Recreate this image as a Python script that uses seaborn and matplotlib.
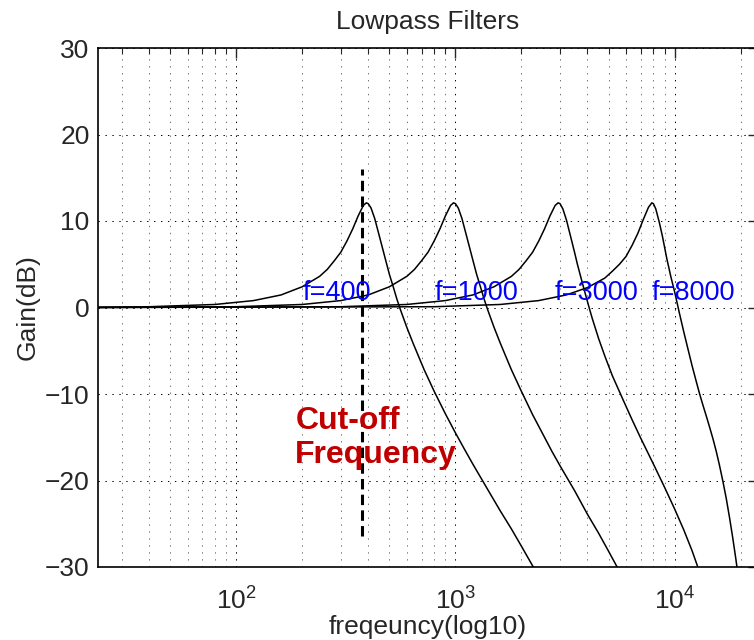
import matplotlib
matplotlib.use("Agg")
import matplotlib.pyplot as plt
import seaborn as sns
import pandas as pd
import numpy as np
from matplotlib.ticker import LogLocator, FixedLocator

# ---------------- data ----------------
cutoffs = [400, 1000, 3000, 8000]
labels = ["f=400", "f=1000", "f=3000", "f=8000"]
label_x = [201, 803, 2845, 7850]
label_y = 0.9

f400 = [20, 40, 80, 120, 160, 200, 240, 260, 280, 300, 320, 340, 360, 380, 392, 400,
        412, 428, 448, 480, 500, 520, 540, 560, 600, 640, 680, 720, 800, 900, 1000,
        1100, 1200, 1400, 1600, 1800, 2000, 2300]
g400 = [0.0, 0.09, 0.35, 0.8, 1.45, 2.4, 3.6, 4.4, 5.4, 6.4, 7.7, 9.1, 10.6, 11.8, 12.1, 12.0,
        11.5, 10.3, 8.4, 5.5, 3.8, 2.4, 1.0, -0.2, -2.3, -4.1, -5.7, -7.2, -9.7, -12.3, -14.5,
        -16.4, -18.1, -21.0, -23.5, -25.6, -27.6, -30.3]

f1000 = [20, 100, 200, 300, 400, 500, 600, 650, 700, 750, 800, 850, 900, 950, 980, 1000,
         1030, 1070, 1120, 1200, 1250, 1300, 1350, 1400, 1500, 1600, 1700, 1800, 2000, 2250,
         2500, 2750, 3000, 3500, 4000, 4500, 5000, 5600]
g1000 = [0.0, 0.09, 0.35, 0.8, 1.45, 2.4, 3.6, 4.4, 5.4, 6.4, 7.7, 9.1, 10.6, 11.8, 12.1, 12.0,
         11.5, 10.3, 8.4, 5.5, 3.8, 2.4, 1.0, -0.2, -2.3, -4.1, -5.7, -7.2, -9.7, -12.4,
         -14.6, -16.6, -18.3, -21.2, -23.9, -26.1, -28.2, -30.5]

f3000 = [20, 300, 600, 900, 1200, 1500, 1800, 1950, 2100, 2250, 2400, 2550, 2700, 2850, 2940,
         3000, 3090, 3210, 3360, 3500, 3600, 3750, 3900, 4050, 4200, 4500, 4800, 5200, 5800,
         6400, 7000, 8000, 9000, 10000, 11000, 12000, 13000]
g3000 = [0.0, 0.09, 0.35, 0.8, 1.45, 2.4, 3.6, 4.4, 5.4, 6.4, 7.7, 9.1, 10.6, 11.8, 12.1,
         12.0, 11.4, 10.1, 8.1, 6.3, 5.0, 3.3, 1.7, 0.2, -1.2, -3.6, -5.6, -7.9, -10.6,
         -13.0, -15.1, -18.1, -20.8, -23.3, -25.7, -28.1, -30.6]

f8000 = [20, 800, 1600, 2400, 3200, 4000, 4800, 5200, 5600, 6000, 6400, 6800, 7200, 7600,
         7870, 8000, 8200, 8500, 8800, 9200, 9600, 10000, 10500, 11000, 11500, 12000, 12500,
         13000, 13500, 14000, 14500, 15000, 15500, 16000, 16600, 17200, 17800, 18400, 19000,
         19500, 20000]
g8000 = [0.0, 0.09, 0.35, 0.8, 1.45, 2.3, 3.4, 4.2, 5.0, 5.9, 7.2, 8.6, 10.2, 11.6,
         12.1, 12.0, 11.4, 9.9, 8.2, 5.7, 3.6, 1.8, -0.6, -2.8, -4.8, -6.7, -8.4,
         -10.0, -11.4, -12.7, -14.0, -15.3, -16.7, -18.2, -20.1, -22.1, -24.3, -26.6, -29.0,
         -31.1, -33.3]

cutoff_line_f = 375
cutoff_line_g = [-26.4, 16.0]

xticks = [100, 1000, 10000]
yticks = [-30, -20, -10, 0, 10, 20, 30]

# ---------------- figure ----------------
sns.set_style("white")
plt.rcParams["font.family"] = ["Liberation Sans", "DejaVu Sans"]
plt.rcParams["mathtext.default"] = "regular"
plt.rcParams["lines.scale_dashes"] = False

fig = plt.figure(figsize=(7.54, 6.4), dpi=100)
ax = fig.add_axes([98 / 754, 73 / 640, 660 / 754, 519 / 640])

curves = [(f400, g400), (f1000, g1000), (f3000, g3000), (f8000, g8000)]
frames = []
for lab, (fx, gy) in zip(labels, curves):
    frames.append(pd.DataFrame({"freq": fx, "gain": gy, "filter": lab}))
df = pd.concat(frames, ignore_index=True)

sns.lineplot(data=df, x="freq", y="gain", hue="filter", units="filter",
             estimator=None, sort=False, palette=["black"] * 4,
             linewidth=1.1, legend=False, ax=ax)

ax.set_xscale("log")
ax.set_xlim(23.4, 24000)
ax.set_ylim(-30, 30)

# cut-off dashed line
ax.plot([cutoff_line_f, cutoff_line_f], cutoff_line_g, color="black",
        linewidth=2.2, dashes=(7.5, 3.8))

# grid
ax.xaxis.set_major_locator(FixedLocator(xticks))
ax.xaxis.set_minor_locator(LogLocator(base=10, subs=np.arange(2, 10)))
ax.set_yticks(yticks)
ax.grid(True, which="major", linestyle=(0, (1, 4)), color="black", linewidth=0.7)
ax.grid(True, which="minor", axis="x", linestyle=(0, (1, 4)), color="0.45", linewidth=0.7)
ax.set_axisbelow(True)

ax.tick_params(axis="both", which="both", direction="in", top=True, right=True,
               labelsize=19)
ax.tick_params(axis="y", which="major", pad=6)
ax.tick_params(axis="x", which="major", pad=15)
ax.tick_params(axis="both", which="major", length=7, width=1)
ax.tick_params(axis="x", which="minor", length=4, width=0.8)
ax.tick_params(axis="y", which="minor", length=0)
for s in ax.spines.values():
    s.set_linewidth(1.2)
    s.set_color("black")

# annotations
for lx, lab in zip(label_x, labels):
    ax.text(lx, label_y, lab, color="blue", fontsize=19.5, ha="left", va="baseline")
ax.text(186, -14.0, "Cut-off", color="#c00000", fontsize=23,
        fontweight="bold", ha="left", va="baseline")
ax.text(186, -18.0, "Frequency", color="#c00000", fontsize=23,
        fontweight="bold", ha="left", va="baseline")

ax.set_title("Lowpass Filters", fontsize=19, pad=14)
ax.set_xlabel("freqeuncy(log10)", fontsize=19, labelpad=0)
ax.set_ylabel("Gain(dB)", fontsize=19, labelpad=4)

fig.savefig("out.png", dpi=100)
